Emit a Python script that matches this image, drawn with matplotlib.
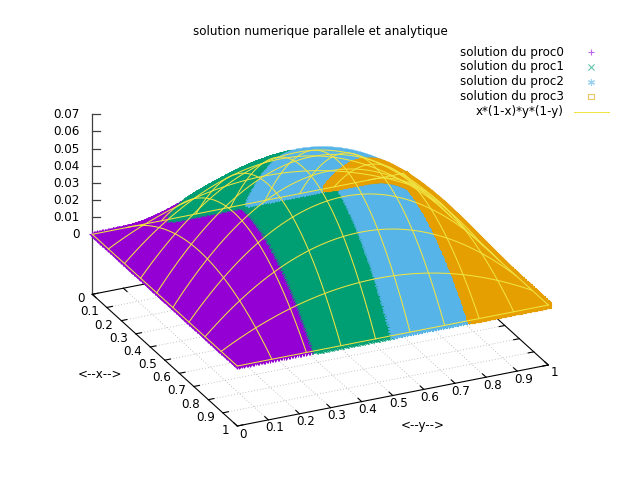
import numpy as np
import matplotlib
matplotlib.use("Agg")
import matplotlib.pyplot as plt

# ---------------- data ----------------
title = "solution numerique parallele et analytique"
proc_labels = ["solution du proc0", "solution du proc1", "solution du proc2", "solution du proc3"]
proc_y_bounds = [0.0, 0.25, 0.5, 0.75, 1.0]     # each process owns a strip in y
proc_colors = ["#9400D3", "#009E73", "#56B4E9", "#E69F00"]
analytic_label = "x*(1-x)*y*(1-y)"
analytic_color = "#F0E442"
n_grid = 200            # numerical grid cells per direction
iso_samples = 10        # analytic mesh lines per direction
x_ticks = [0, 0.1, 0.2, 0.3, 0.4, 0.5, 0.6, 0.7, 0.8, 0.9, 1]
y_ticks = [0, 0.1, 0.2, 0.3, 0.4, 0.5, 0.6, 0.7, 0.8, 0.9, 1]
z_ticks = [0, 0.01, 0.02, 0.03, 0.04, 0.05, 0.06, 0.07]
x_tick_labels = ["0", "0.1", "0.2", "0.3", "0.4", "0.5", "0.6", "0.7", "0.8", "0.9", "1"]
y_tick_labels = x_tick_labels
z_tick_labels = ["0", "0.01", "0.02", "0.03", "0.04", "0.05", "0.06", "0.07"]
z_range = (0.0, 0.07)
ticslevel = 0.5


def analytic(x, y):
    return x * (1 - x) * y * (1 - y)


# ---------------- projection (gnuplot-like orthographic view) ----------------
OX, OY = 92.3, 294.3          # screen position of (x=0, y=0, base)
EX = (145.0, 131.7)           # screen vector for unit x
EY = (311.0, -61.0)           # screen vector for unit y
ZS = 1714.0                   # screen pixels per unit z
Z_BASE = z_range[0] - ticslevel * (z_range[1] - z_range[0])


def proj(x, y, z):
    x = np.asarray(x, float)
    y = np.asarray(y, float)
    z = np.asarray(z, float)
    px = OX + EX[0] * x + EY[0] * y
    py = OY + EX[1] * x + EY[1] * y - ZS * (z - Z_BASE)
    return px, py


FS = 8.6
fig = plt.figure(figsize=(6.4, 4.8), dpi=100)
ax = fig.add_axes([0, 0, 1, 1])
ax.set_xlim(0, 640)
ax.set_ylim(480, 0)
ax.axis("off")

# ---------------- base grid ----------------
grid_kw = dict(color="#b0b0b0", lw=0.6, ls=(0, (1, 2.5)), zorder=1)
for v in x_ticks[1:-1]:
    px, py = proj([v, v], [0, 1], [Z_BASE, Z_BASE])
    ax.plot(px, py, **grid_kw)
for v in y_ticks[1:-1]:
    px, py = proj([0, 1], [v, v], [Z_BASE, Z_BASE])
    ax.plot(px, py, **grid_kw)

# ---------------- border ----------------
bx = [0, 1, 1, 0, 0]
by = [0, 0, 1, 1, 0]
px, py = proj(bx, by, [Z_BASE] * 5)
ax.plot(px, py, color="black", lw=0.8, zorder=2)
px, py = proj([0, 0], [0, 0], [Z_BASE, z_range[1]])
ax.plot(px, py, color="#404040", lw=0.9, zorder=2)

# ticks
tl_x = 0.025
tl_y = 0.018
for v, lab in zip(x_ticks, x_tick_labels):
    px, py = proj([v, v], [0, tl_y], [Z_BASE, Z_BASE])
    ax.plot(px, py, color="black", lw=0.8, zorder=2)
    px, py = proj([v, v], [1, 1 - tl_y], [Z_BASE, Z_BASE])
    ax.plot(px, py, color="black", lw=0.8, zorder=2)
    tx, ty = proj(v, 0, Z_BASE)
    ax.text(tx - 8, ty + 4.5, lab, ha="right", va="center", fontsize=FS)
for v, lab in zip(y_ticks, y_tick_labels):
    px, py = proj([1, 1 - tl_x], [v, v], [Z_BASE, Z_BASE])
    ax.plot(px, py, color="black", lw=0.8, zorder=2)
    px, py = proj([0, tl_x], [v, v], [Z_BASE, Z_BASE])
    ax.plot(px, py, color="black", lw=0.8, zorder=2)
    tx, ty = proj(1, v, Z_BASE)
    ax.text(tx + 6, ty + 8, lab, ha="center", va="center", fontsize=FS)
for v, lab in zip(z_ticks, z_tick_labels):
    tx, ty = proj(0, 0, v)
    ax.plot([tx, tx + 7.5], [ty, ty], color="#404040", lw=0.9, zorder=2)
    ax.text(tx - 13, ty + 0.5, lab, ha="right", va="center", fontsize=FS)

# axis labels
ax.text(100, 375, "<--x-->", ha="center", va="center", fontsize=FS)
ax.text(423, 425, "<--y-->", ha="center", va="center", fontsize=FS)

# ---------------- numerical solution (points) ----------------
markers = ["+", "x", (6, 2, 0), "s"]
msize = 20
xs = np.linspace(0, 1, n_grid + 1)
ys_all = np.linspace(0, 1, n_grid + 1)
for k in range(4):
    y0, y1 = proc_y_bounds[k], proc_y_bounds[k + 1]
    if k < 3:
        ysel = ys_all[(ys_all >= y0) & (ys_all < y1)]
    else:
        ysel = ys_all[(ys_all >= y0) & (ys_all <= y1)]
    X, Y = np.meshgrid(xs, ysel, indexing="ij")
    Z = analytic(X, Y)
    px, py = proj(X.ravel(), Y.ravel(), Z.ravel())
    if markers[k] == "s":
        ax.scatter(px, py, s=msize * 0.8, marker="s", facecolors="none",
                   edgecolors=proc_colors[k], linewidths=0.8, zorder=3 + k)
    else:
        ax.scatter(px, py, s=msize, marker=markers[k], c=proc_colors[k],
                   linewidths=0.8, zorder=3 + k)

# ---------------- analytic mesh ----------------
t = np.linspace(0, 1, 100)
iso = np.linspace(0, 1, iso_samples)
for v in iso:
    px, py = proj(np.full_like(t, v), t, analytic(v, t))
    ax.plot(px, py, color=analytic_color, lw=0.75, zorder=10)
    px, py = proj(t, np.full_like(t, v), analytic(t, v))
    ax.plot(px, py, color=analytic_color, lw=0.75, zorder=10)

# ---------------- title & key ----------------
ax.text(320, 32, title, ha="center", va="center", fontsize=FS)
key_rows = [52.3, 66.9, 81.7, 96.7, 111.7]
for k in range(4):
    ax.text(564, key_rows[k], proc_labels[k], ha="right", va="center", fontsize=FS)
    if markers[k] == "s":
        ax.scatter([591], [key_rows[k]], s=20 * 0.8, marker="s", facecolors="none",
                   edgecolors=proc_colors[k], alpha=0.6, linewidths=0.8, zorder=12)
    else:
        ax.scatter([591], [key_rows[k]], s=20, marker=markers[k], c=proc_colors[k],
                   alpha=0.6, linewidths=0.8, zorder=12)
ax.text(564, key_rows[4], analytic_label, ha="right", va="center", fontsize=FS)
ax.plot([573.5, 608.5], [key_rows[4], key_rows[4]], color=analytic_color, lw=0.75, zorder=12)

fig.savefig("out.png", dpi=100)
